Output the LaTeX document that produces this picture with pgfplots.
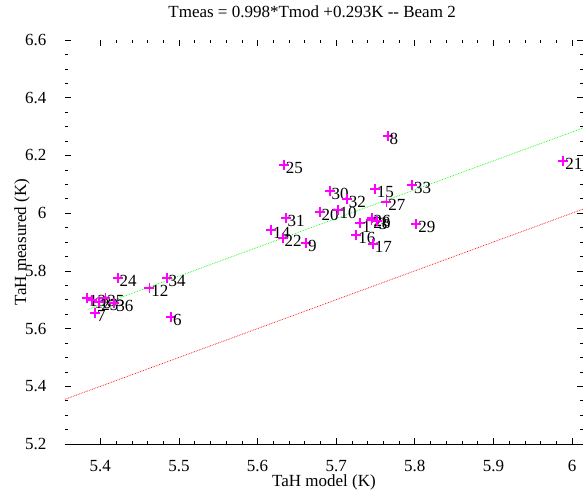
\documentclass[border=0pt]{standalone}
\usepackage{fontspec}
\setmainfont{Liberation Serif}
\usepackage{pgfplots}
\pgfplotsset{compat=1.18}
\definecolor{mag}{RGB}{255,0,255}
\definecolor{grn}{RGB}{0,255,0}
\definecolor{rd}{RGB}{255,0,0}
\pgfplotstableread{
x y label
5.3834 5.706 13
5.3898 5.699 18
5.3987 5.692 23
5.4064 5.706 35
5.4178 5.689 36
5.3936 5.654 7
5.422 5.776 24
5.4624 5.7395 12
5.4845 5.774 34
5.490 5.639 6
5.6174 5.941 14
5.6357 5.982 31
5.632 5.913 22
5.662 5.897 9
5.6335 6.167 25
5.679 6.005 20
5.702 6.011 10
5.6917 6.077 30
5.7138 6.048 32
5.7656 6.267 8
5.7494 6.084 15
5.764 6.040 27
5.7966 6.097 33
5.7452 5.983 26
5.7308 5.9645 1
5.7448 5.976 28
5.752 5.972 3
5.7257 5.924 16
5.7469 5.892 17
5.802 5.961 29
5.989 6.181 21
}\datatable
\begin{document}
\begin{tikzpicture}[font=\fontsize{17}{20}\selectfont]
\begin{axis}[
  width=518pt, height=404pt, scale only axis,
  xmin=5.355, xmax=6.014, ymin=5.2, ymax=6.6,
  xtick={5.4,5.5,5.6,5.7,5.8,5.9,6.0},
  xticklabels={5.4,5.5,5.6,5.7,5.8,5.9,6},
  ytick={5.2,5.4,5.6,5.8,6.0,6.2,6.4,6.6},
  yticklabels={5.2,5.4,5.6,5.8,6,6.2,6.4,6.6},
  xticklabel style={yshift=-13pt},
  yticklabel style={xshift=-15pt},
  minor x tick num=4, minor y tick num=3,
  tick align=inside, major tick length=6pt, minor tick length=3pt,
  tick style={black, line width=0.6pt},
  axis line style={draw=none},
  title={Tmeas = 0.998*Tmod +0.293K {-}{-} Beam 2},
  every axis title/.style={at={(axis description cs:0.477,1.069)}, anchor=center},
  xlabel={TaH model (K)},
  every axis x label/.style={at={(axis description cs:0.5,-0.094)}, anchor=center},
  ylabel={TaH measured (K)},
  every axis y label/.style={at={(axis description cs:-0.083,0.5)}, anchor=center, rotate=90},
  clip=false,
]
\coordinate (sw) at (rel axis cs:0,0);
\coordinate (ne) at (rel axis cs:1,1);
\draw[black, line width=1pt] (rel axis cs:0,0) -- (rel axis cs:1,0);
\addplot[rd, densely dotted, line width=0.7pt] coordinates {(5.355,5.355) (6.014,6.014)};
\addplot[grn, densely dotted, line width=0.7pt] coordinates {(5.384,5.666) (6.014,6.295)};
\addplot[only marks, mark=+, mark size=5pt, mark options={line width=1.8pt}, color=mag,
  nodes near coords, point meta=explicit symbolic,
  every node near coord/.style={anchor=west, inner sep=0pt, xshift=1pt, yshift=-3pt, text=black, font=\fontsize{17}{20}\selectfont}]
  table[x=x, y=y, meta=label] {\datatable};
\end{axis}
\pgfresetboundingbox
\path[use as bounding box] ([shift={(-65pt,-47pt)}]sw) rectangle ([shift={(3pt,40pt)}]ne);
\end{tikzpicture}
\end{document}
